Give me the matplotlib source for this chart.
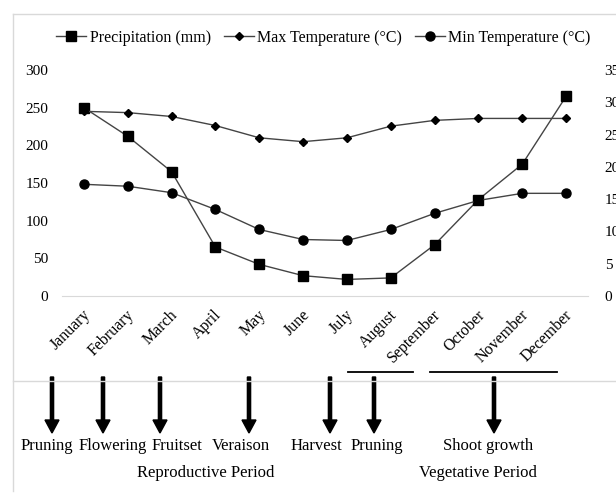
import numpy as np
import matplotlib.pyplot as plt
from matplotlib.lines import Line2D
from matplotlib.transforms import ScaledTranslation

plt.rcParams['font.family'] = ['Liberation Serif', 'DejaVu Serif']

months = ['January', 'February', 'March', 'April', 'May', 'June', 'July',
          'August', 'September', 'October', 'November', 'December']
precip = [250, 212, 165, 65, 42, 27, 22, 24, 68, 128, 175, 265]
max_temp = [28.6, 28.4, 27.8, 26.4, 24.5, 23.9, 24.5, 26.3, 27.2, 27.5, 27.5, 27.5]
min_temp = [17.3, 17.0, 16.0, 13.4, 10.3, 8.75, 8.6, 10.3, 12.8, 14.8, 15.9, 15.9]

# phenology events for the lower panel: (label, arrow x, label centre x) in pixels
events = [('Pruning', 52, 47), ('Flowering', 103, 113), ('Fruitset', 160, 177),
          ('Veraison', 249, 241), ('Harvest', 330, 316), ('Pruning', 374, 377),
          ('Shoot growth', 494, 488)]
periods = [('Reproductive Period', 206), ('Vegetative Period', 478)]

W, H = 616, 493
fig = plt.figure(figsize=(W / 100, H / 100), dpi=100)

# background overlay in pixel coordinates
bg = fig.add_axes([0, 0, 1, 1], zorder=0)
bg.set_xlim(0, W)
bg.set_ylim(H, 0)
bg.axis('off')
frame_c = '#d9d9d9'
bg.plot([13, 13], [14, 491], color=frame_c, lw=1)
bg.plot([13, W], [14, 14], color=frame_c, lw=1)
bg.plot([13, W], [381, 381], color=frame_c, lw=1)
bg.plot([348, 413], [372, 372], color='black', lw=1.3)
bg.plot([430, 557], [372, 372], color='black', lw=1.3)
for name, ax_x, tx in events:
    bg.arrow(ax_x, 377, 0, 56, width=3.2, head_width=14, head_length=13,
             length_includes_head=True, color='black')
    bg.text(tx, 446, name, ha='center', va='center', fontsize=12)
for name, tx in periods:
    bg.text(tx, 473, name, ha='center', va='center', fontsize=12)

# main chart
ax = fig.add_axes([62 / W, (H - 296) / H, 526 / W, 226 / H], zorder=2)
ax.patch.set_alpha(0)
x = np.arange(len(months))
line_c = '#444444'
ax.plot(x, precip, color=line_c, lw=1, marker='s', ms=6.5, mfc='black', mec='black')
ax.set_xlim(-0.5, len(months) - 0.5)
ax.set_ylim(0, 300)
ax.set_yticks(range(0, 301, 50))
for s in ['top', 'right', 'left']:
    ax.spines[s].set_visible(False)
ax.spines['bottom'].set_color(frame_c)
ax.tick_params(axis='both', length=0, labelsize=11)
ax.tick_params(axis='y', pad=10)
ax.set_xticks(x)
ax.set_xticklabels(months, rotation=45, ha='right', va='center', rotation_mode='anchor',
                   fontsize=11.5)
ax.tick_params(axis='x', pad=12)
for lab in ax.get_xticklabels():
    lab.set_transform(lab.get_transform() + ScaledTranslation(4 / 100, 0, fig.dpi_scale_trans))

ax2 = ax.twinx()
ax2.plot(x, max_temp, color=line_c, lw=1, marker='D', ms=4, mfc='black', mec='black')
ax2.plot(x, min_temp, color=line_c, lw=1, marker='o', ms=6.5, mfc='black', mec='black')
ax2.set_ylim(0, 35)
ax2.set_yticks(range(0, 36, 5))
for s in ['top', 'right', 'left', 'bottom']:
    ax2.spines[s].set_visible(False)
ax2.tick_params(axis='y', length=0, labelsize=11, pad=12)

handles = [
    Line2D([], [], color=line_c, lw=1, marker='s', ms=6.5, mfc='black', mec='black'),
    Line2D([], [], color=line_c, lw=1, marker='D', ms=4, mfc='black', mec='black'),
    Line2D([], [], color=line_c, lw=1, marker='o', ms=6.5, mfc='black', mec='black'),
]
fig.legend(handles, ['Precipitation (mm)', 'Max Temperature (°C)', 'Min Temperature (°C)'],
           loc='center', bbox_to_anchor=(0.525, (H - 38) / H), ncol=3, frameon=False,
           fontsize=11.5, handlelength=1.9, handletextpad=0.2, columnspacing=0.8)

fig.savefig('out.png', dpi=100)
